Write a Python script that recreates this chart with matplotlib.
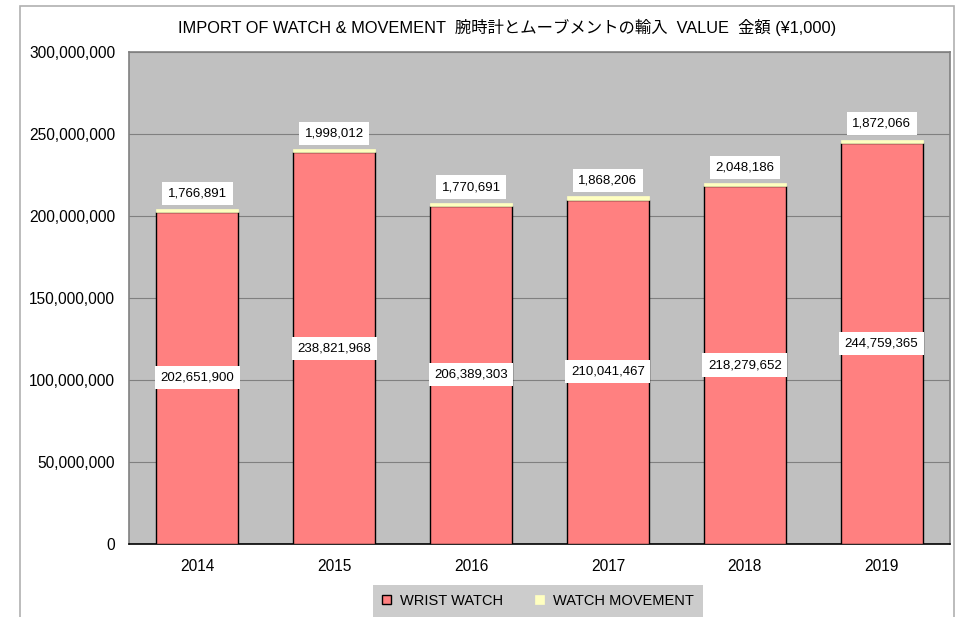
import matplotlib
matplotlib.use('Agg')
import matplotlib.pyplot as plt
from matplotlib.patches import Rectangle
from matplotlib.ticker import FuncFormatter
import numpy as np

years = ['2014', '2015', '2016', '2017', '2018', '2019']
wrist_watch = [202651900, 238821968, 206389303, 210041467, 218279652, 244759365]
watch_movement = [1766891, 1998012, 1770691, 1868206, 2048186, 1872066]

plt.rcParams['font.family'] = ['Liberation Sans', 'Noto Sans CJK JP', 'DejaVu Sans']

W, H = 957, 617
fig = plt.figure(figsize=(W / 100, H / 100), dpi=100)
fig.patch.set_facecolor('white')

# outer chart frame
fig.add_artist(Rectangle((20 / W, -0.01), (954 - 20) / W, (H - 6) / H + 0.01,
                         transform=fig.transFigure, fill=False,
                         edgecolor='#b0b0b0', linewidth=1.2))

ax = fig.add_axes([129 / W, (H - 544) / H, (950 - 129) / W, (544 - 52) / H])
ax.set_facecolor('#c0c0c0')

x = np.arange(len(years))
ax.bar(x, wrist_watch, width=0.6, color='#ff8080', edgecolor='black',
       linewidth=1.0, label='WRIST WATCH', zorder=3)
ax.bar(x, watch_movement, width=0.6, bottom=wrist_watch, color='#ffffc0',
       edgecolor='#ffffc0', linewidth=0.5, label='WATCH MOVEMENT', zorder=3)

box = dict(boxstyle='square,pad=0.42', facecolor='white', edgecolor='none')
for i in range(len(years)):
    ax.text(x[i], wrist_watch[i] / 2, f'{wrist_watch[i]:,}', ha='center',
            va='center', fontsize=9.5, bbox=box, zorder=5)
    top = wrist_watch[i] + watch_movement[i]
    ax.text(x[i], top + 9.5e6, f'{watch_movement[i]:,}', ha='center',
            va='center', fontsize=9.5, bbox=box, zorder=5)

ax.set_xlim(-0.5, len(years) - 0.5)
ax.set_ylim(0, 300e6)
ax.set_yticks(np.arange(0, 300e6 + 1, 50e6))
ax.yaxis.set_major_formatter(FuncFormatter(lambda v, p: f'{int(v):,}'))
ax.set_xticks(x)
ax.set_xticklabels(years)
ax.tick_params(axis='both', length=0, labelsize=11.2, pad=10)
ax.tick_params(axis='x', pad=11)
ax.grid(axis='y', color='#808080', linewidth=0.8, zorder=0)
for s in ax.spines.values():
    s.set_color('#808080')
    s.set_linewidth(1.2)
ax.spines['bottom'].set_color('black')

fig.text(507 / W, 1 - 27 / H,
         'IMPORT OF WATCH & MOVEMENT  腕時計とムーブメントの輸入  VALUE  金額 (¥1,000)',
         ha='center', va='center', fontsize=11.8)

leg = fig.legend(loc='center', bbox_to_anchor=(538 / W, 1 - 601 / H), ncol=2,
                 frameon=True, fontsize=10.5, handlelength=0.6, handleheight=0.6,
                 handletextpad=0.6, columnspacing=2.2, borderpad=0.35)
leg.get_frame().set_facecolor('#c0c0c0')
leg.get_frame().set_edgecolor('none')
leg.get_frame().set_boxstyle('square')

fig.savefig('out.png', dpi=100)
